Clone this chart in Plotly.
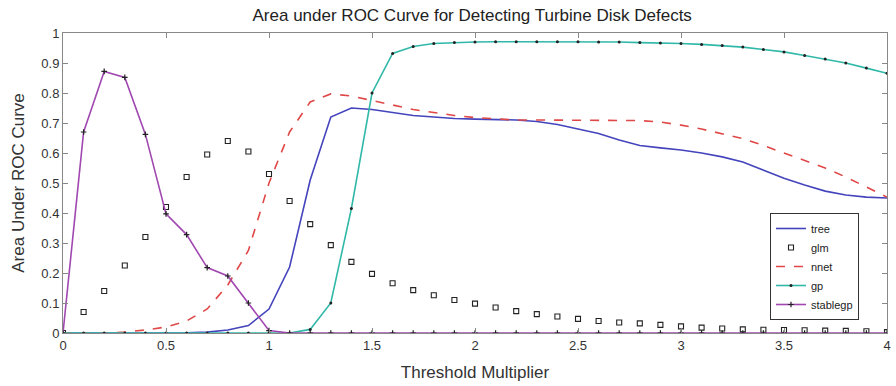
import plotly.graph_objects as go

x = [round(i * 0.1, 1) for i in range(41)]

tree = [0, 0, 0, 0, 0, 0, 0.001, 0.003, 0.01, 0.025, 0.08, 0.22, 0.51, 0.72, 0.75, 0.745,
        0.735, 0.725, 0.72, 0.715, 0.713, 0.712, 0.71, 0.705, 0.695, 0.68, 0.665, 0.643,
        0.625, 0.617, 0.61, 0.6, 0.587, 0.57, 0.543, 0.516, 0.493, 0.473, 0.46, 0.453, 0.45]

glm = [0, 0.07, 0.14, 0.225, 0.32, 0.42, 0.52, 0.595, 0.64, 0.605, 0.53, 0.44, 0.363,
       0.293, 0.237, 0.197, 0.166, 0.143, 0.126, 0.11, 0.098, 0.085, 0.073, 0.063, 0.055,
       0.047, 0.04, 0.035, 0.032, 0.027, 0.022, 0.018, 0.015, 0.012, 0.011, 0.01, 0.009,
       0.008, 0.007, 0.006, 0.003]

nnet = [0, 0, 0, 0.003, 0.01, 0.02, 0.04, 0.08, 0.16, 0.275, 0.5, 0.67, 0.77, 0.797, 0.79,
        0.775, 0.76, 0.745, 0.735, 0.725, 0.718, 0.713, 0.71, 0.71, 0.71, 0.71, 0.71, 0.71,
        0.708, 0.703, 0.693, 0.68, 0.665, 0.648, 0.625, 0.6, 0.575, 0.55, 0.52, 0.487, 0.453]

gp = [0, 0, 0, 0, 0, 0, 0, 0, 0, 0, 0, 0, 0.012, 0.1, 0.415, 0.8, 0.932, 0.955, 0.965,
      0.968, 0.97, 0.971, 0.971, 0.971, 0.971, 0.971, 0.97, 0.97, 0.968, 0.967, 0.965,
      0.962, 0.958, 0.953, 0.945, 0.937, 0.925, 0.913, 0.9, 0.883, 0.866]

stablegp = [0, 0.67, 0.872, 0.852, 0.662, 0.397, 0.328, 0.218, 0.19, 0.1, 0.008, 0, 0, 0,
            0, 0, 0, 0, 0, 0, 0, 0, 0, 0, 0, 0, 0, 0, 0, 0, 0, 0, 0, 0, 0, 0, 0, 0, 0, 0, 0]

x_ticks = [0, 0.5, 1, 1.5, 2, 2.5, 3, 3.5, 4]
x_labels = ["0", "0.5", "1", "1.5", "2", "2.5", "3", "3.5", "4"]
y_ticks = [i / 10 for i in range(11)]
y_labels = ["0", "0.1", "0.2", "0.3", "0.4", "0.5", "0.6", "0.7", "0.8", "0.9", "1"]

FONT = "Liberation Sans, Arial"

fig = go.Figure()
fig.add_trace(go.Scatter(x=x, y=tree, name="tree", mode="lines",
                         line=dict(color="#4444bc", width=1.6)))
fig.add_trace(go.Scatter(x=x, y=glm, name="glm", mode="markers",
                         marker=dict(symbol="square-open", size=5, color="#222",
                                     line=dict(width=1.1, color="#222"))))
fig.add_trace(go.Scatter(x=x, y=nnet, name="nnet", mode="lines",
                         line=dict(color="#e04848", width=1.6, dash="dash")))
fig.add_trace(go.Scatter(x=x, y=gp, name="gp", mode="lines+markers",
                         line=dict(color="#30b8a8", width=1.6),
                         marker=dict(symbol="circle", size=3, color="#222")))
fig.add_trace(go.Scatter(x=x, y=stablegp, name="stablegp", mode="lines+markers",
                         line=dict(color="#a048b0", width=1.6),
                         marker=dict(symbol="cross-thin", size=4, color="#222",
                                     line=dict(width=1.2, color="#222"))))

axis_common = dict(showline=True, linecolor="#888", linewidth=1, mirror="ticks",
                   ticks="inside", ticklen=5, tickcolor="#888", showgrid=False,
                   zeroline=False, tickfont=dict(family=FONT, size=13, color="#333"))

fig.update_layout(
    width=896, height=386,
    margin=dict(l=63, r=5, t=33, b=53),
    paper_bgcolor="white", plot_bgcolor="white",
    title=dict(text="Area under ROC Curve for Detecting Turbine Disk Defects",
               x=0.527, xanchor="center", y=0.962, yanchor="middle",
               font=dict(family=FONT, size=17, color="#222")),
    xaxis=dict(range=[0, 4], tickvals=x_ticks, ticktext=x_labels,
               title=dict(text="Threshold Multiplier", standoff=14,
                          font=dict(family=FONT, size=17, color="#333")),
               **axis_common),
    yaxis=dict(range=[0, 1], tickvals=y_ticks, ticktext=y_labels,
               title=dict(text="Area Under ROC Curve", standoff=12,
                          font=dict(family=FONT, size=17, color="#333")),
               **axis_common),
    legend=dict(x=0.858, y=0.4, xanchor="left", yanchor="top",
                bordercolor="#333", borderwidth=1, bgcolor="white",
                font=dict(family=FONT, size=11, color="#222"),
                tracegroupgap=0, itemwidth=30),
    showlegend=True,
)

fig.write_html("out.html")
